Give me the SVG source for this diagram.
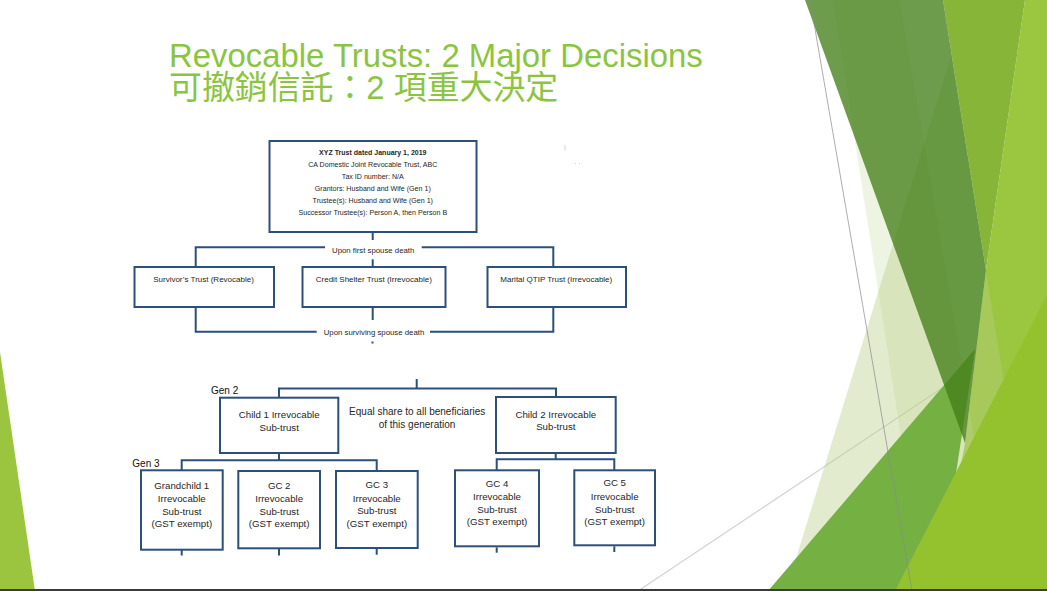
<svg xmlns="http://www.w3.org/2000/svg" width="1047" height="591" viewBox="0 0 1047 591">
  <style>
    .box { fill: #ffffff; stroke: #2d4f7c; stroke-width: 2; }
    .conn { fill: none; stroke: #2d4f7c; stroke-width: 2; }
    .txt { font-family: 'Liberation Sans', Arial, sans-serif; fill: #262626; text-anchor: middle; }
    .tb { font-size: 7.1px; }
    .tbb { font-size: 7px; font-weight: bold; }
    .tr { font-size: 8px; }
    .tl { font-size: 7.8px; }
    .ts { font-size: 9.7px; }
    .tq { font-size: 10px; }
    .gen { font-family: 'Liberation Sans', Arial, sans-serif; font-size: 10px; fill: #111; }
    .title { font-family: 'Liberation Sans', 'Noto Sans CJK TC', Arial, sans-serif; font-size: 32.9px; fill: #8bc53f; }
  </style>

  <!-- background -->
  <rect x="0" y="0" width="1047" height="591" fill="#ffffff"/>
  <g id="decor">
    <line x1="638" y1="591" x2="1047" y2="318" stroke="#d2d2d2" stroke-width="1.2"/>
    <polygon points="1025,0 1047,0 1047,591 938,591 965,443 986,270" fill="#9bc63f"/>
    <polygon points="943,0 1025,0 986,270" fill="#87b537"/>
    <polygon points="833,0 900,0 1000,591 925,591" fill="#c8dca0" fill-opacity="0.3"/>
    <polygon points="951,56 1038,591 786,591" fill="#b6cd82" fill-opacity="0.4"/>
    <polygon points="975,349 938,591 768,591" fill="#75b043"/>
    <polygon points="895,591 1047,295 1047,591" fill="#93c22e"/>
    <polygon points="805,0 943,0 986,270 965,443" fill="#427e18" fill-opacity="0.77"/>
    <line x1="810" y1="0" x2="912" y2="591" stroke="#8a8a8a" stroke-width="1" stroke-opacity="0.7"/>
    <polygon points="0,352 35,591 0,591" fill="#9bc53f"/>
    <rect x="0" y="589" width="1047" height="2" fill="#3a3a3a"/>
    <path d="M565,145 V150.5" stroke="#c8c8c8" stroke-width="0.8"/>
    <path d="M575,163.5 h1 M579,163.5 h1" stroke="#c8c8c8" stroke-width="0.8"/>
  </g>

  <!-- title -->
  <g id="title">
    <text class="title" x="169" y="67">Revocable Trusts: 2 Major Decisions</text>
    <text class="title" x="169" y="98.5">可撤銷信託：2 項重大決定</text>
  </g>

  <!-- connectors -->
  <g id="connectors">
    <path class="conn" d="M372.7,232 V240"/>
    <path class="conn" d="M195.7,267 V247.3 H325"/>
    <path class="conn" d="M421.7,247.3 H553.3 V267"/>
    <path class="conn" d="M372.7,259.3 V267"/>
    <path class="conn" d="M195.7,307 V331.7 H316.7"/>
    <path class="conn" d="M430,331.7 H553.3 V307"/>
    <path class="conn" d="M372.7,307 V320"/>
    <path class="conn" d="M372.5,341.5 V343.5" stroke-width="1"/>

    <path class="conn" d="M416.7,379 V388.5"/>
    <path class="conn" d="M279,397.7 V388.5 H556 V397"/>
    <path class="conn" d="M279,453 V460.3"/>
    <path class="conn" d="M181.7,470.3 V460.3 H376.7 V471"/>
    <path class="conn" d="M555.7,453 V459.3"/>
    <path class="conn" d="M496.7,470.3 V459.3 H614.3 V470.3"/>
    <path class="conn" d="M181.7,550 V555.5"/>
    <path class="conn" d="M279,549 V555.5"/>
    <path class="conn" d="M376.7,548.5 V554.7"/>
    <path class="conn" d="M496.7,547.3 V552.7"/>
    <path class="conn" d="M614.3,546.3 V552"/>
  </g>

  <!-- top trust -->
  <g id="xyz-trust">
    <rect class="box" x="269.5" y="141" width="207" height="91"/>
    <text class="txt tbb" x="372.8" y="155.3">XYZ Trust dated January 1, 2019</text>
    <text class="txt tb" x="372.8" y="167">CA Domestic Joint Revocable Trust, ABC</text>
    <text class="txt tb" x="372.8" y="179">Tax ID number: N/A</text>
    <text class="txt tb" x="372.8" y="191">Grantors: Husband and Wife (Gen 1)</text>
    <text class="txt tb" x="372.8" y="203">Trustee(s): Husband and Wife (Gen 1)</text>
    <text class="txt tb" x="372.8" y="215.3">Successor Trustee(s): Person A, then Person B</text>
  </g>

  <g id="label-first-death">
    <text class="txt tl" x="373.2" y="253.3">Upon first spouse death</text>
  </g>

  <g id="survivors-trust">
    <rect class="box" x="134.5" y="267" width="139.5" height="40"/>
    <text class="txt tr" x="203.5" y="281.7">Survivor’s Trust (Revocable)</text>
  </g>
  <g id="credit-shelter-trust">
    <rect class="box" x="302.5" y="267" width="143" height="40"/>
    <text class="txt tr" x="373.8" y="281.7">Credit Shelter Trust (Irrevocable)</text>
  </g>
  <g id="marital-qtip-trust">
    <rect class="box" x="487.5" y="267" width="138.5" height="40"/>
    <text class="txt tr" x="556.3" y="281.7">Marital QTIP Trust (Irrevocable)</text>
  </g>

  <g id="label-surviving-death">
    <text class="txt tl" x="374" y="335">Upon surviving spouse death</text>
  </g>

  <g id="gen2-label">
    <text class="gen" x="211" y="393.7">Gen 2</text>
  </g>
  <g id="gen3-label">
    <text class="gen" x="132.3" y="467">Gen 3</text>
  </g>

  <g id="child1">
    <rect class="box" x="220" y="397.7" width="118.3" height="55.3"/>
    <text class="txt ts" x="279.2" y="418">Child 1 Irrevocable</text>
    <text class="txt ts" x="279.2" y="430.7">Sub-trust</text>
  </g>
  <g id="equal-share-label">
    <text class="txt tq" x="417.2" y="415.3">Equal share to all beneficiaries</text>
    <text class="txt tq" x="417" y="428">of this generation</text>
  </g>
  <g id="child2">
    <rect class="box" x="496" y="397" width="119.7" height="56"/>
    <text class="txt ts" x="555.8" y="417.7">Child 2 Irrevocable</text>
    <text class="txt ts" x="555.8" y="430.3">Sub-trust</text>
  </g>

  <g id="gc1">
    <rect class="box" x="141" y="470.3" width="81.7" height="79.4"/>
    <text class="txt ts" x="181.8" y="489">Grandchild 1</text>
    <text class="txt ts" x="181.8" y="502">Irrevocable</text>
    <text class="txt ts" x="181.8" y="514.7">Sub-trust</text>
    <text class="txt ts" x="181.8" y="527.3">(GST exempt)</text>
  </g>
  <g id="gc2">
    <rect class="box" x="238.3" y="471" width="81.7" height="77.3"/>
    <text class="txt ts" x="279.2" y="489">GC 2</text>
    <text class="txt ts" x="279.2" y="502">Irrevocable</text>
    <text class="txt ts" x="279.2" y="514.7">Sub-trust</text>
    <text class="txt ts" x="279.2" y="527.3">(GST exempt)</text>
  </g>
  <g id="gc3">
    <rect class="box" x="336" y="471" width="81.7" height="77"/>
    <text class="txt ts" x="376.8" y="488">GC 3</text>
    <text class="txt ts" x="376.8" y="501.7">Irrevocable</text>
    <text class="txt ts" x="376.8" y="514.3">Sub-trust</text>
    <text class="txt ts" x="376.8" y="527.3">(GST exempt)</text>
  </g>
  <g id="gc4">
    <rect class="box" x="455" y="470.3" width="84" height="76"/>
    <text class="txt ts" x="497" y="487">GC 4</text>
    <text class="txt ts" x="497" y="500.3">Irrevocable</text>
    <text class="txt ts" x="497" y="513">Sub-trust</text>
    <text class="txt ts" x="497" y="525.3">(GST exempt)</text>
  </g>
  <g id="gc5">
    <rect class="box" x="574.3" y="470.3" width="80.7" height="75"/>
    <text class="txt ts" x="614.7" y="486.3">GC 5</text>
    <text class="txt ts" x="614.7" y="500">Irrevocable</text>
    <text class="txt ts" x="614.7" y="512.7">Sub-trust</text>
    <text class="txt ts" x="614.7" y="525">(GST exempt)</text>
  </g>
</svg>
